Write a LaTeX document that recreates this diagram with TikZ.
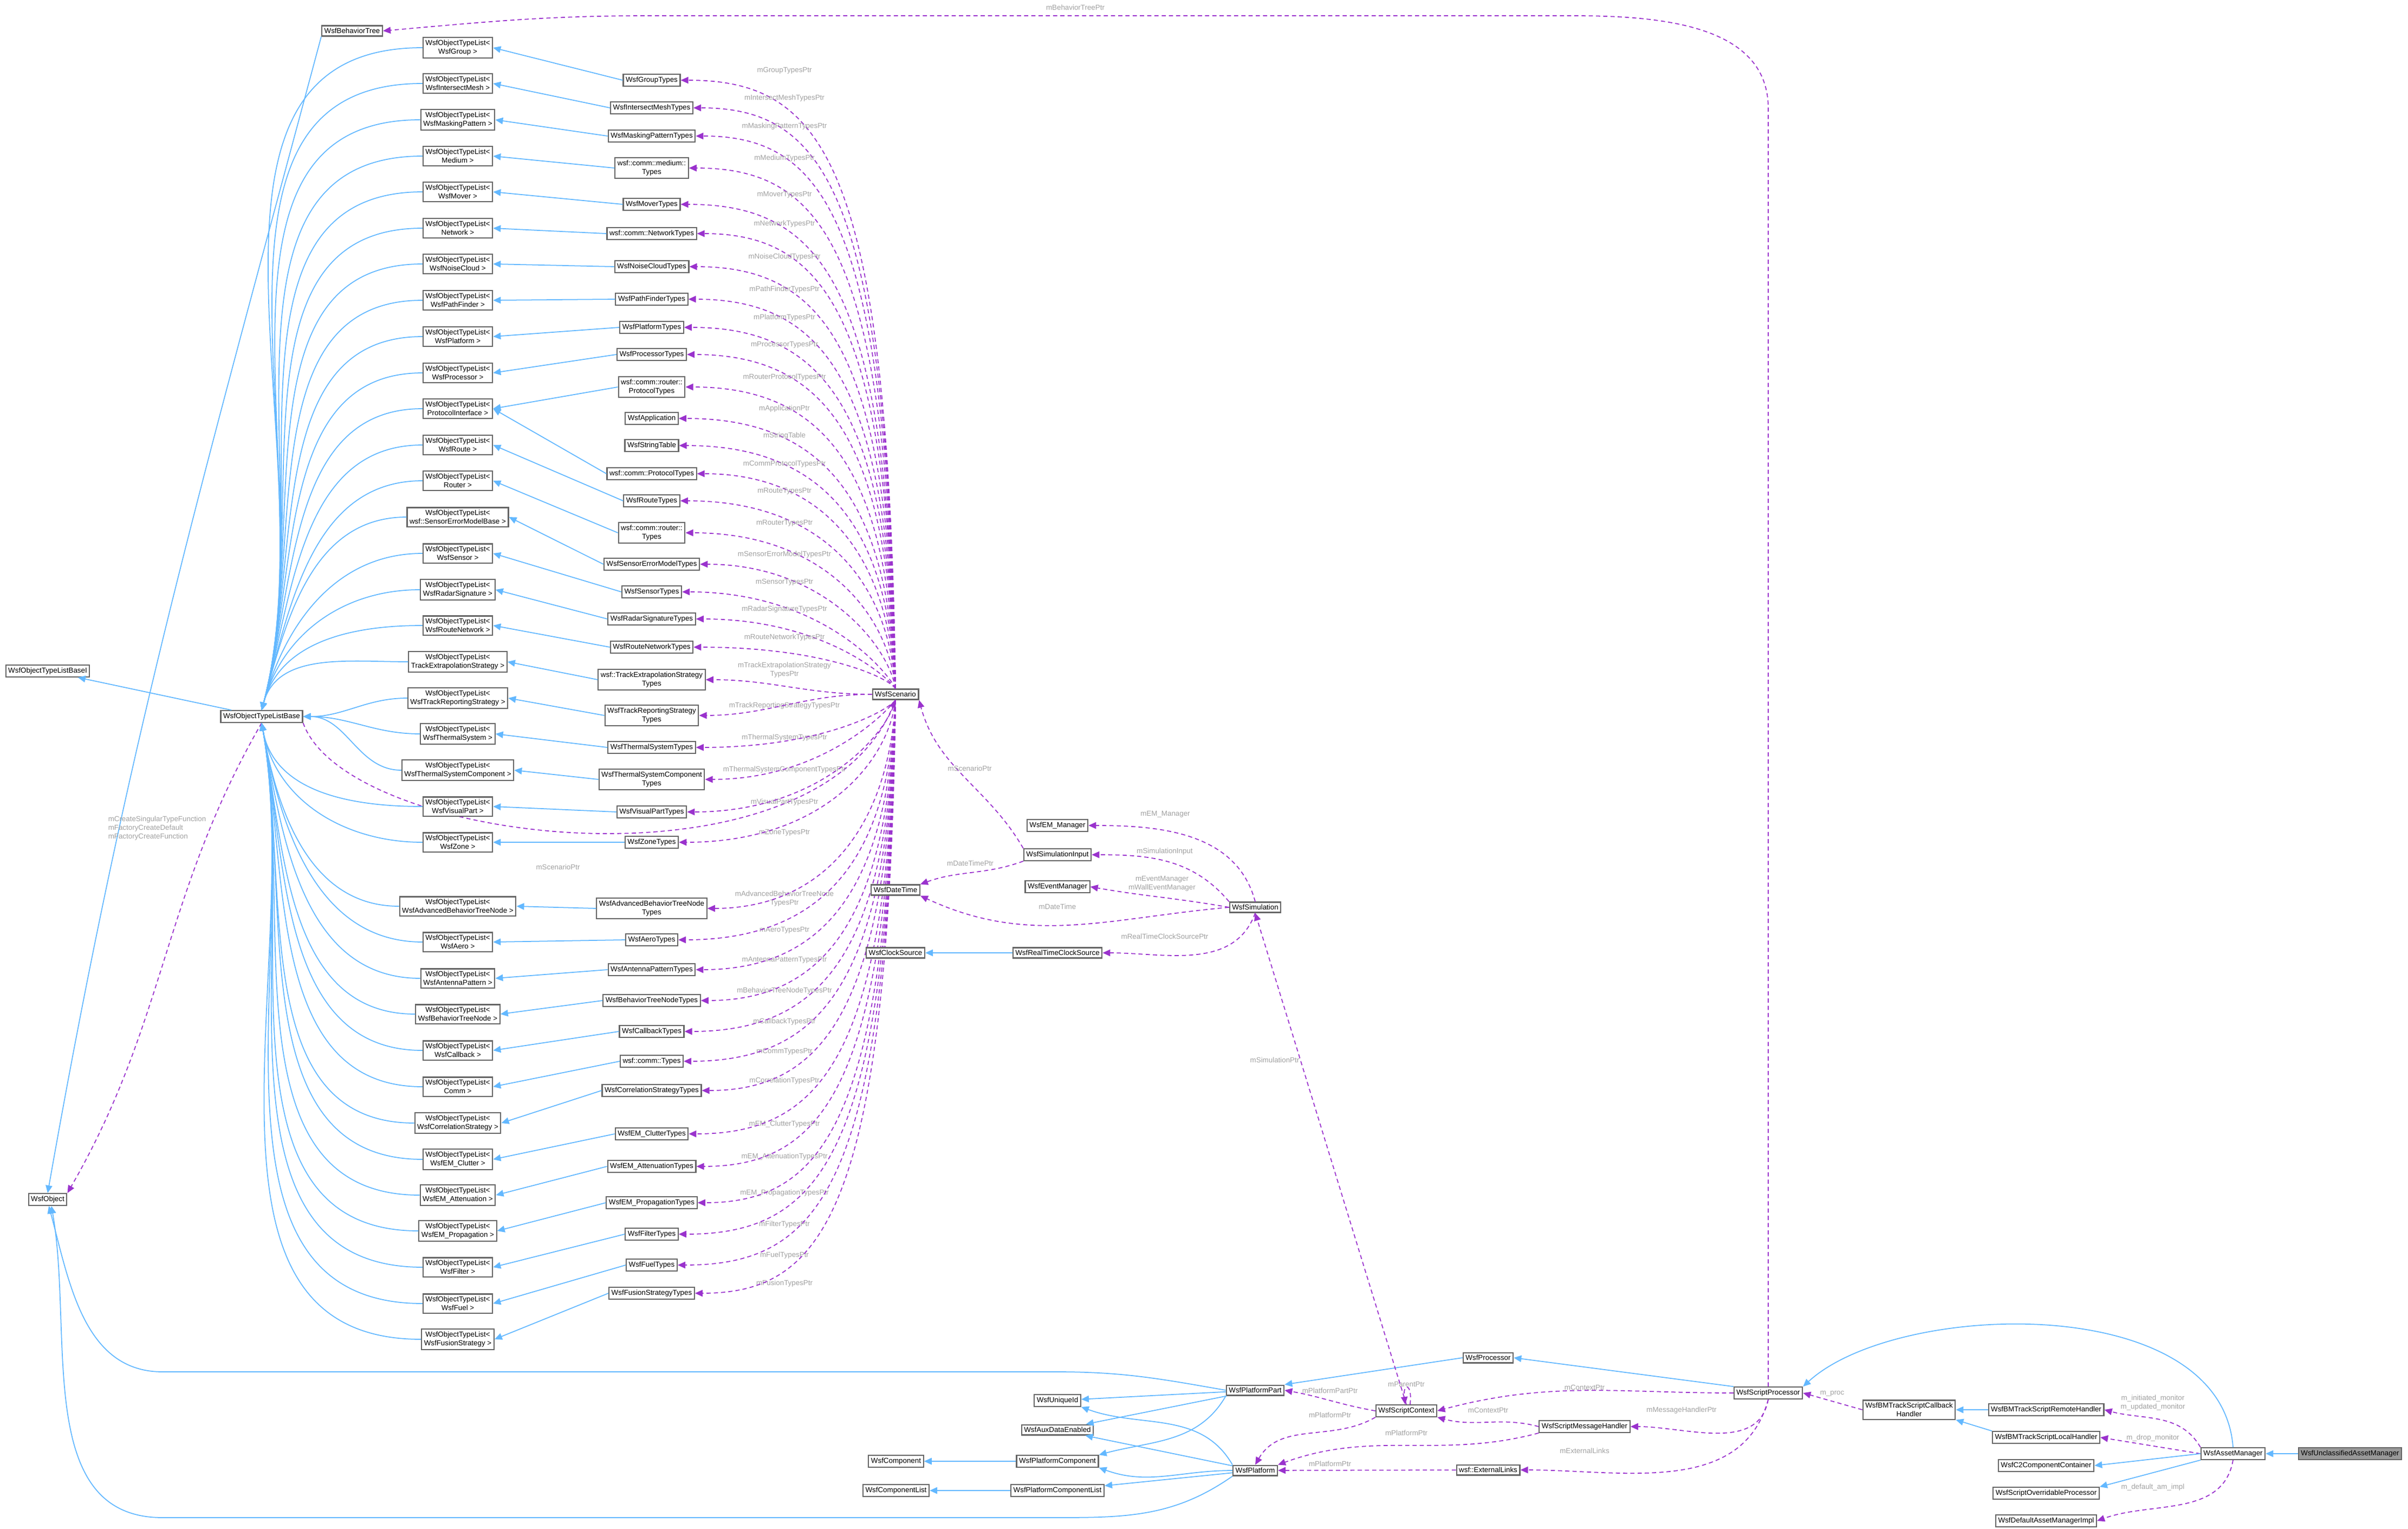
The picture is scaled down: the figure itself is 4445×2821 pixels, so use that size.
\documentclass[tikz,border=0pt]{standalone}
\usepackage{fontspec}
\setmainfont{Liberation Sans}
\usetikzlibrary{arrows.meta,positioning}
\definecolor{inhblue}{HTML}{63B8FF}
\definecolor{usepurple}{HTML}{9A32CD}
\definecolor{edgegray}{HTML}{A0A0A0}
\definecolor{boxgray}{HTML}{666666}
\newcommand{\gfont}{\fontsize{3.8}{4.6}\selectfont}

\begin{document}
\begin{tikzpicture}[x=0.01cm,y=-0.01cm]
  \tikzset{box/.style={draw=boxgray,fill=white,line width=0.6pt,inner sep=1.3pt,font=\gfont,align=center}}
  \tikzset{inh/.style={draw=inhblue,line width=0.5pt,-{Triangle[length=4pt,width=3.5pt]}}}
  \tikzset{member/.style={draw=usepurple,line width=0.5pt,dash pattern=on 2.2pt off 1.6pt,-{Triangle[length=4pt,width=3.5pt]}}}
  \tikzset{lbl/.style={text=edgegray,font=\gfont,inner sep=0.5pt,align=center}}
  \useasboundingbox (0,0) rectangle (4445,2821);
  % base classes on the left
  \node[box] (bt) at (650,57) {WsfBehaviorTree};
  \node[box] (basei) at (88,1238) {WsfObjectTypeListBaseI};
  \node[box] (base) at (483,1322) {WsfObjectTypeListBase};
  \node[box] (obj) at (88,2213) {WsfObject};
  \node[box] (scn) at (1653,1281) {WsfScenario};
  \draw[inh] (base) -- (basei);
  \draw[inh] (bt.south west) to[out=-105,in=80] (obj.north);
  \draw[member] (base.south) to[out=-120,in=60] (obj.north east);
  \node[lbl,align=left] at (290,1528) {mCreateSingularTypeFunction\\mFactoryCreateDefault\\mFactoryCreateFunction};
  \draw[member] (base.south east) .. controls (640,1560) and (1500,1660) .. (scn.south);
  \node[lbl] at (1030,1600) {mScenarioPtr};
  % object type lists
  \foreach \i/\nm/\y in {1/WsfGroup/88, 2/WsfIntersectMesh/154, 3/WsfMaskingPattern/221, 4/Medium/288,
      5/WsfMover/354, 6/Network/421, 7/WsfNoiseCloud/487, 8/WsfPathFinder/554, 9/WsfPlatform/621,
      10/WsfProcessor/688, 11/ProtocolInterface/754, 12/WsfRoute/821, 13/Router/887,
      14/wsf::SensorErrorModelBase/954, 15/WsfSensor/1021, 16/WsfRadarSignature/1088,
      17/WsfRouteNetwork/1154, 18/TrackExtrapolationStrategy/1221, 19/WsfTrackReportingStrategy/1288,
      20/WsfThermalSystem/1354, 21/WsfThermalSystemComponent/1421, 22/WsfVisualPart/1488,
      23/WsfZone/1554, 24/WsfAdvancedBehaviorTreeNode/1672, 25/WsfAero/1738, 26/WsfAntennaPattern/1805,
      27/WsfBehaviorTreeNode/1871, 28/WsfCallback/1938, 29/Comm/2005, 30/WsfCorrelationStrategy/2072,
      31/WsfEM\_Clutter/2139, 32/WsfEM\_Attenuation/2205, 33/WsfEM\_Propagation/2271,
      34/WsfFilter/2338, 35/WsfFuel/2405, 36/WsfFusionStrategy/2471} {
    \node[box] (l\i) at (845,\y) {WsfObjectTypeList<\\\nm{} >};
    \pgfmathtruncatemacro\dy{\y-1322}
    \ifnum\dy<-100 \draw[inh] (l\i.west) to[out=180,in=75] (base.north);
    \else\ifnum\dy>100 \draw[inh] (l\i.west) to[out=180,in=-80] (base.south);
    \else \draw[inh] (l\i.west) to[out=180,in=0] (base.east); \fi\fi
  }
  % type collections owned by the scenario
  \foreach \txt/\y/\b/\lb [count=\k] in {WsfGroupTypes/148/1/mGroupTypesPtr,
      WsfIntersectMeshTypes/199/2/mIntersectMeshTypesPtr, WsfMaskingPatternTypes/251/3/mMaskingPatternTypesPtr,
      wsf::comm::medium::\\Types/310/4/mMediumTypesPtr, WsfMoverTypes/377/5/mMoverTypesPtr,
      wsf::comm::NetworkTypes/431/6/mNetworkTypesPtr, WsfNoiseCloudTypes/492/7/mNoiseCloudTypesPtr,
      WsfPathFinderTypes/552/8/mPathFinderTypesPtr, WsfPlatformTypes/604/9/mPlatformTypesPtr,
      WsfProcessorTypes/654/10/mProcessorTypesPtr, wsf::comm::router::\\ProtocolTypes/714/11/mRouterProtocolTypesPtr,
      WsfApplication/772/0/mApplicationPtr, WsfStringTable/822/0/mStringTable,
      wsf::comm::ProtocolTypes/874/11/mCommProtocolTypesPtr, WsfRouteTypes/924/12/mRouteTypesPtr,
      wsf::comm::router::\\Types/983/13/mRouterTypesPtr, WsfSensorErrorModelTypes/1041/14/mSensorErrorModelTypesPtr,
      WsfSensorTypes/1092/15/mSensorTypesPtr, WsfRadarSignatureTypes/1142/16/mRadarSignatureTypesPtr,
      WsfRouteNetworkTypes/1194/17/mRouteNetworkTypesPtr,
      wsf::TrackExtrapolationStrategy\\Types/1254/18/mTrackExtrapolationStrategy\\TypesPtr,
      WsfTrackReportingStrategy\\Types/1320/19/mTrackReportingStrategyTypesPtr,
      WsfThermalSystemTypes/1379/20/mThermalSystemTypesPtr,
      WsfThermalSystemComponent\\Types/1438/21/mThermalSystemComponentTypesPtr,
      WsfVisualPartTypes/1498/22/mVisualPartTypesPtr, WsfZoneTypes/1554/23/mZoneTypesPtr,
      WsfAdvancedBehaviorTreeNode\\Types/1676/24/mAdvancedBehaviorTreeNode\\TypesPtr,
      WsfAeroTypes/1734/25/mAeroTypesPtr, WsfAntennaPatternTypes/1789/26/mAntennaPatternTypesPtr,
      WsfBehaviorTreeNodeTypes/1846/27/mBehaviorTreeNodeTypesPtr, WsfCallbackTypes/1903/28/mCallbackTypesPtr,
      wsf::comm::Types/1958/29/mCommTypesPtr, WsfCorrelationStrategyTypes/2012/30/mCorrelationTypesPtr,
      WsfEM\_ClutterTypes/2092/31/mEM\_ClutterTypesPtr, WsfEM\_AttenuationTypes/2152/32/mEM\_AttenuationTypesPtr,
      WsfEM\_PropagationTypes/2219/33/mEM\_PropagationTypesPtr, WsfFilterTypes/2277/34/mFilterTypesPtr,
      WsfFuelTypes/2334/35/mFuelTypesPtr, WsfFusionStrategyTypes/2386/36/mFusionTypesPtr} {
    \node[box] (t\k) at (1203,\y) {\txt};
    \ifnum\b>0 \draw[inh] (t\k.west) -- (l\b.east); \fi
    \node[lbl] at (1448,\y-18) {\lb};
    \ifnum\y<1220 \draw[member] (scn.north) .. controls (1640,{min(\y+150,1250)}) and (1520,\y) .. (t\k.east);
    \else\ifnum\y>1350 \draw[member] (scn.south) .. controls (1640,{max(\y-150,1310)}) and (1520,\y) .. (t\k.east);
    \else \draw[member] (scn.west) to[out=180,in=0] (t\k.east); \fi\fi
  }
  % simulation
  \node[box] (emm) at (1952,1523) {WsfEM\_Manager};
  \node[box] (siminp) at (1952,1577) {WsfSimulationInput};
  \node[box] (evm) at (1952,1636) {WsfEventManager};
  \node[box] (dt) at (1653,1642) {WsfDateTime};
  \node[box] (sim) at (2317,1674) {WsfSimulation};
  \node[box] (clk) at (1653,1758) {WsfClockSource};
  \node[box] (rtc) at (1952,1758) {WsfRealTimeClockSource};
  \draw[member] (siminp.north west) to[out=120,in=-75] (scn.south east);
  \node[lbl] at (1790,1418) {mScenarioPtr};
  \draw[member] (siminp.south west) to[out=-160,in=20] (dt.north east);
  \node[lbl] at (1791,1593) {mDateTimePtr};
  \draw[member] (sim.north) to[out=105,in=0] (emm.east);
  \node[lbl] at (2151,1502) {mEM\_Manager};
  \draw[member] (sim.north west) to[out=130,in=0] (siminp.east);
  \node[lbl] at (2150,1571) {mSimulationInput};
  \draw[member] (sim.west) to[out=170,in=-10] (evm.east);
  \node[lbl] at (2145,1630) {mEventManager\\mWallEventManager};
  \draw[member] (sim.west) to[out=185,in=-25] (dt.south east);
  \node[lbl] at (1952,1673) {mDateTime};
  \draw[member] (sim.south) to[out=-110,in=0] (rtc.east);
  \node[lbl] at (2150,1728) {mRealTimeClockSourcePtr};
  \draw[inh] (rtc) -- (clk);
  % platform parts
  \node[box] (proc) at (2747,2505) {WsfProcessor};
  \node[box] (ppart) at (2317,2565) {WsfPlatformPart};
  \node[box] (uid) at (1952,2584) {WsfUniqueId};
  \node[box] (aux) at (1952,2638) {WsfAuxDataEnabled};
  \node[box] (comp) at (1654,2696) {WsfComponent};
  \node[box] (pcomp) at (1952,2696) {WsfPlatformComponent};
  \node[box] (clist) at (1654,2750) {WsfComponentList};
  \node[box] (pclist) at (1952,2750) {WsfPlatformComponentList};
  \node[box] (plat) at (2317,2713) {WsfPlatform};
  \node[box] (sctx) at (2596,2603) {WsfScriptContext};
  \node[box] (xl) at (2747,2712) {wsf::ExternalLinks};
  \draw[inh] (ppart.west) to[out=170,in=0] (1950,2531) -- (300,2531) to[out=180,in=-75] (obj.-80);
  \draw[inh] (ppart) -- (uid);
  \draw[inh] (ppart) -- (aux);
  \draw[inh] (ppart.south west) to[out=-120,in=15] (pcomp.north east);
  \draw[inh] (proc.west) -- (ppart.north east);
  \draw[inh] (plat.north west) to[out=120,in=-20] (uid.south east);
  \draw[inh] (plat) -- (aux);
  \draw[inh] (plat.west) to[out=180,in=-20] (pcomp.south east);
  \draw[inh] (plat) -- (pclist);
  \draw[inh] (plat.south west) to[out=-145,in=0] (1950,2800) -- (300,2800) to[out=180,in=-80] (obj.-60);
  \draw[inh] (pcomp) -- (comp);
  \draw[inh] (pclist) -- (clist);
  \draw[member] (sctx.west) to[out=170,in=-10] (ppart.east);
  \node[lbl] at (2455,2566) {mPlatformPartPtr};
  \draw[member] (sctx.south west) to[out=-150,in=60] (plat.north);
  \node[lbl] at (2455,2611) {mPlatformPtr};
  \draw[member] (sctx.60) .. controls +(5,-40) and +(-5,-40) .. (sctx.100);
  \node[lbl] at (2596,2554) {mParentPtr};
  \draw[member] (sctx.north) -- (sim.south);
  \node[lbl] at (2353,1956) {mSimulationPtr};
  \draw[member] (xl) -- (plat);
  \node[lbl] at (2455,2701) {mPlatformPtr};
  % script processor and asset manager
  \node[box] (sproc) at (3264,2570) {WsfScriptProcessor};
  \node[box] (smh) at (2925,2632) {WsfScriptMessageHandler};
  \node[box] (cbh) at (3524,2601) {WsfBMTrackScriptCallback\\Handler};
  \node[box] (rem) at (3777,2601) {WsfBMTrackScriptRemoteHandler};
  \node[box] (loc) at (3777,2652) {WsfBMTrackScriptLocalHandler};
  \node[box] (am) at (4122,2682) {WsfAssetManager};
  \node[box,fill=gray!80] (uam) at (4338,2682) {WsfUnclassifiedAssetManager};
  \node[box] (c2) at (3777,2704) {WsfC2ComponentContainer};
  \node[box] (sop) at (3777,2755) {WsfScriptOverridableProcessor};
  \node[box] (dami) at (3777,2806) {WsfDefaultAssetManagerImpl};
  \draw[member] (smh.south west) to[out=-165,in=20] (plat.north east);
  \node[lbl] at (2596,2644) {mPlatformPtr};
  \draw[inh] (sproc.north west) -- (proc.east);
  \draw[member] (sproc.west) to[out=180,in=15] (sctx.east);
  \node[lbl] at (2925,2560) {mContextPtr};
  \draw[member] (smh.west) to[out=165,in=-15] (sctx.south east);
  \node[lbl] at (2747,2602) {mContextPtr};
  \draw[member] (sproc.south) to[out=-100,in=0] (smh.east);
  \node[lbl] at (3104,2602) {mMessageHandlerPtr};
  \draw[member] (sproc.south) to[out=-105,in=0] (xl.east);
  \node[lbl] at (2925,2677) {mExternalLinks};
  \draw[member] (sproc.north) -- (3264,200) to[out=90,in=0] (2900,29) -- (1200,29) to[out=180,in=5] (bt.east);
  \node[lbl] at (1985,14) {mBehaviorTreePtr};
  \draw[member] (cbh.west) -- (sproc.east);
  \node[lbl] at (3382,2571) {m\_proc};
  \draw[inh] (rem) -- (cbh);
  \draw[inh] (loc.north west) -- (cbh.south east);
  \draw[inh] (am.north) .. controls (4100,2380) and (3500,2400) .. (sproc.north east);
  \draw[member] (am.north west) to[out=120,in=-15] (rem.east);
  \node[lbl] at (3974,2588) {m\_initiated\_monitor\\m\_updated\_monitor};
  \draw[member] (am.west) -- (loc.east);
  \node[lbl] at (3974,2653) {m\_drop\_monitor};
  \draw[inh] (am.west) -- (c2.east);
  \draw[inh] (am.south west) -- (sop.north east);
  \draw[member] (am.south) to[out=-100,in=20] (dami.east);
  \node[lbl] at (3974,2744) {m\_default\_am\_impl};
  \draw[inh] (uam) -- (am);
\end{tikzpicture}
\end{document}
